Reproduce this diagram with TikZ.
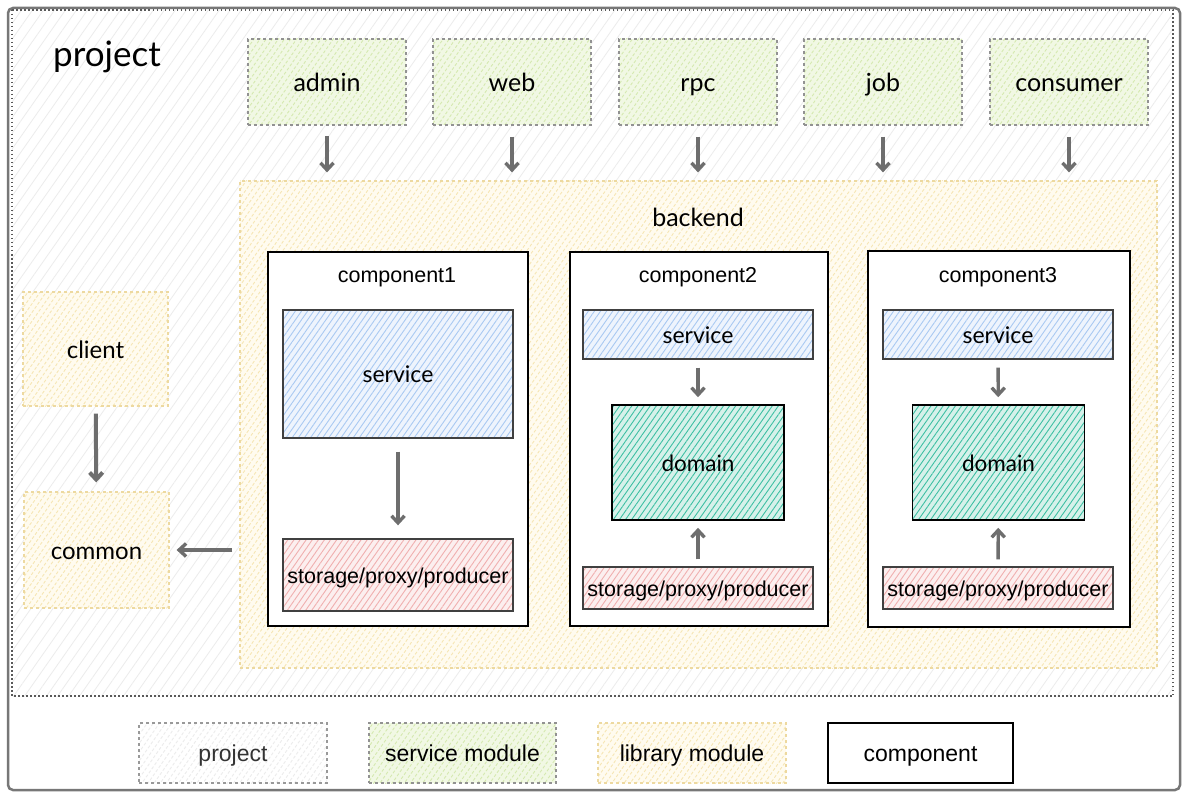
\documentclass[tikz,border=0pt]{standalone}
\usepackage{fontspec}
\setmainfont{Liberation Sans}
\newfontfamily\hand{Lato}
\usetikzlibrary{patterns.meta,arrows.meta}
\definecolor{frame}{HTML}{777777}
\definecolor{arrowc}{HTML}{6E6E6E}
\definecolor{svcfill}{HTML}{F1F8E4}
\definecolor{svcline}{HTML}{D5E9B0}
\definecolor{libfill}{HTML}{FFFBEF}
\definecolor{libline}{HTML}{F6E6B4}
\definecolor{libborder}{HTML}{EDD9A0}
\definecolor{projline}{HTML}{ECECEC}
\definecolor{blueline}{HTML}{A9C9F2}
\definecolor{bluefill}{HTML}{EEF4FD}
\definecolor{tealline}{HTML}{3DBFA3}
\definecolor{tealfill}{HTML}{D6F1EA}
\definecolor{pinkline}{HTML}{F0AFAF}
\definecolor{pinkfill}{HTML}{FCEFEF}
\tikzset{
  x=1pt,y=-1pt,
  hatch/.style 2 args={preaction={fill=#1},pattern={Lines[angle=55,distance=5pt,line width=0.9pt]},pattern color=#2},
  svcmod/.style={draw=frame!80,dashed,line width=1.2pt,hatch={svcfill}{svcline},
     font=\hand\fontsize{25}{28}\selectfont,inner sep=0pt,text height=23.5pt,text depth=5pt},
  libmod/.style={draw=libborder,dashed,line width=1.2pt,hatch={libfill}{libline},
     font=\hand\fontsize{24}{28}\selectfont,inner sep=0pt,text height=23pt,text depth=5pt},
  comp/.style={draw=black,line width=1.6pt,fill=white,inner sep=0pt},
  ctitle/.style={font=\fontsize{21.5}{24}\selectfont,text height=21pt,text depth=4.3pt},
  bluebox/.style={draw=black!75,line width=1.4pt,hatch={bluefill}{blueline},
     font=\hand\fontsize{23}{26}\selectfont,inner sep=0pt,text height=22pt,text depth=4.6pt},
  tealbox/.style={draw=black,line width=1.6pt,hatch={tealfill}{tealline},
     font=\hand\fontsize{22.5}{26}\selectfont,inner sep=0pt,text height=22pt,text depth=4.5pt},
  pinkbox/.style={draw=black!75,line width=1.4pt,hatch={pinkfill}{pinkline},
     font=\fontsize{21.5}{24}\selectfont,inner sep=0pt,text height=21pt,text depth=4.3pt},
  arr/.style={draw=arrowc,line width=3.4pt,-{Straight Barb[length=7pt,width=13pt]}},
  legend/.style={inner sep=0pt,minimum width=188pt,minimum height=60pt,font=\fontsize{23}{26}\selectfont,text height=22pt,text depth=4.6pt},
}
\begin{document}
\begin{tikzpicture}
\useasboundingbox (0,0) rectangle (1185,794);
\fill[white] (0,0) rectangle (1185,794);
% outer frame
\draw[frame,line width=2.5pt,rounded corners=5pt] (8,8) rectangle (1180,790);
% project area
\path[pattern={Lines[angle=55,distance=9pt,line width=0.8pt]},pattern color=projline] (12,10) rectangle (1173,696);
\draw[black!65,line width=1.3pt,dash pattern=on 1.5pt off 2.5pt] (12,10) rectangle (1173,696);
\node[font=\hand\fontsize{35}{40}\selectfont,text height=31pt,text depth=7pt] (ptitle) at (107,55) {project};

% service modules
\node[svcmod,minimum width=158pt,minimum height=86pt] (admin) at (327,82) {admin};
\node[svcmod,minimum width=158pt,minimum height=86pt] (web) at (512,82) {web};
\node[svcmod,minimum width=158pt,minimum height=86pt] (rpc) at (698,82) {rpc};
\node[svcmod,minimum width=158pt,minimum height=86pt] (job) at (883,82) {job};
\node[svcmod,minimum width=158pt,minimum height=86pt] (consumer) at (1069,82) {consumer};

% backend
\node[libmod,minimum width=917pt,minimum height=487pt] (backend) at (698.5,424.5) {};
\node[font=\hand\fontsize{25}{28}\selectfont,text height=21.5pt,text depth=5pt] (blabel) at (698,218) {backend};

\foreach \m in {admin,web,rpc,job,consumer}
  \draw[arr,shorten <=11pt,shorten >=8pt] (\m.south) -- (\m.south |- backend.north);

% components
\node[comp,minimum width=260pt,minimum height=374pt] (c1) at (398,439) {};
\node[comp,minimum width=258pt,minimum height=374pt] (c2) at (699,439) {};
\node[comp,minimum width=262pt,minimum height=376pt] (c3) at (999,439) {};
\node[ctitle] (t1) at (397,274) {component1};
\node[ctitle] (t2) at (698,274) {component2};
\node[ctitle] (t3) at (998,274) {component3};

% component1
\node[bluebox,minimum width=230pt,minimum height=128pt] (s1) at (398,374) {service};
\node[pinkbox,minimum width=230pt,minimum height=72pt] (p1) at (398,575) {storage/proxy/producer};
\draw[arr,shorten <=13pt,shorten >=13pt] (s1) -- (p1);

% component2
\node[bluebox,minimum width=230pt,minimum height=49pt] (s2) at (698,334.5) {service};
\node[tealbox,minimum width=172pt,minimum height=115pt] (d2) at (698,462.5) {domain};
\node[pinkbox,minimum width=230pt,minimum height=42pt] (p2) at (698,588) {storage/proxy/producer};
\draw[arr,shorten <=8pt,shorten >=7pt] (s2) -- (d2);
\draw[arr,shorten <=7pt,shorten >=7pt] (p2) -- (d2);

% component3
\node[bluebox,minimum width=230pt,minimum height=49pt] (s3) at (998,334.5) {service};
\node[tealbox,minimum width=172pt,minimum height=115pt] (d3) at (998.5,462.5) {domain};
\node[pinkbox,minimum width=230pt,minimum height=42pt] (p3) at (998,588) {storage/proxy/producer};
\draw[arr,shorten <=8pt,shorten >=7pt] (s3) -- (d3);
\draw[arr,shorten <=7pt,shorten >=7pt] (p3) -- (d3);

% client / common
\node[libmod,minimum width=145pt,minimum height=114pt] (client) at (95.5,349) {client};
\node[libmod,minimum width=145pt,minimum height=116pt] (common) at (96.5,550) {common};
\draw[arr,line width=4pt,shorten <=7pt,shorten >=9pt] (client) -- (common);
\draw[arr,shorten <=7pt,shorten >=7pt] (backend.west |- common.east) -- (common.east);

% legend
\node[legend,draw=black!40,dashed,line width=1.1pt,hatch={white}{projline}] (lproj) at (233,753) {\color{black!80}project};
\node[legend,draw=frame!80,dashed,line width=1.2pt,hatch={svcfill}{svcline},minimum width=187pt] (lsvc) at (462.5,753) {service module};
\node[legend,draw=libborder,dashed,line width=1.2pt,hatch={libfill}{libline}] (llib) at (692,753) {library module};
\node[legend,draw=black,line width=1.6pt,fill=white,minimum width=185pt] (lcomp) at (920.5,753) {component};
\end{tikzpicture}
\end{document}
